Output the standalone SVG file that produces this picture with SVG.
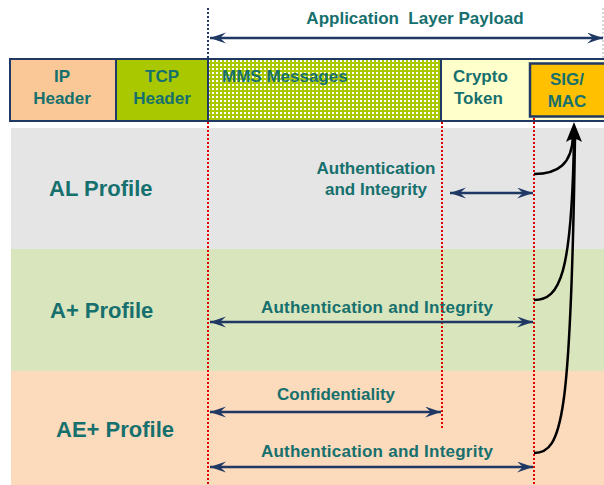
<svg xmlns="http://www.w3.org/2000/svg" width="604" height="485" viewBox="0 0 604 485">
  <style>
    .t { font-family: "Liberation Sans", Arial, sans-serif; font-weight: bold; fill: #16706d; font-size: 17px; }
    .big { font-size: 22px; }
    .pre { white-space: pre; }
    .box { stroke: #1f3864; stroke-width: 2; }
    .red { stroke: #e00000; stroke-width: 2; stroke-dasharray: 2 2; fill: none; }
    .nav { stroke: #1f3864; stroke-width: 2.5; fill: none; }
    .blk { stroke: #000; stroke-width: 2.5; fill: none; }
  </style>
  <defs>
    <pattern id="dots" width="4" height="4" patternUnits="userSpaceOnUse">
      <rect width="4" height="4" fill="#a9c800"/>
      <rect x="0" y="0" width="2" height="2" fill="#ffffff"/>
    </pattern>
    <marker id="ah" markerUnits="userSpaceOnUse" markerWidth="18" markerHeight="12" refX="16" refY="5.5" orient="auto-start-reverse">
      <path d="M0,0 L16,5.5 L0,11 L6,5.5 Z" fill="#1f3864"/>
    </marker>
  </defs>

  <rect width="604" height="485" fill="#ffffff"/>

  <!-- profile bands -->
  <g id="al-profile">
    <rect x="11" y="128" width="593" height="121" fill="#e5e5e5"/>
    <text class="t big" x="49" y="196">AL Profile</text>
  </g>
  <g id="a-plus-profile">
    <rect x="11" y="249" width="593" height="122" fill="#d9e5bd"/>
    <text class="t big" x="50" y="318">A+ Profile</text>
  </g>
  <g id="ae-plus-profile">
    <rect x="11" y="371" width="593" height="114" fill="#fcdabc"/>
    <text class="t big" x="56" y="437">AE+ Profile</text>
  </g>

  <!-- packet layout -->
  <g id="ip-header">
    <rect class="box" x="10" y="59" width="106" height="62" fill="#fac896"/>
    <text class="t" x="62" y="82" text-anchor="middle">IP</text>
    <text class="t" x="62" y="104" text-anchor="middle">Header</text>
  </g>
  <g id="tcp-header">
    <rect class="box" x="116" y="59" width="92" height="62" fill="#a9c800"/>
    <text class="t" x="162" y="82" text-anchor="middle">TCP</text>
    <text class="t" x="162" y="104" text-anchor="middle">Header</text>
  </g>
  <g id="mms-messages">
    <rect class="box" x="208" y="59" width="233" height="62" fill="url(#dots)"/>
    <text class="t" x="222" y="82">MMS Messages</text>
  </g>
  <g id="crypto-token">
    <rect class="box" x="441" y="59" width="165" height="62" fill="#ffffcc"/>
    <text class="t" x="453" y="82">Crypto</text>
    <text class="t" x="454" y="104">Token</text>
  </g>
  <g id="sig-mac">
    <rect x="530" y="63.5" width="76" height="53" fill="#ffc000" stroke="#1f3864" stroke-width="2.5"/>
    <text class="t" x="567" y="85" text-anchor="middle">SIG/</text>
    <text class="t" x="567" y="107" text-anchor="middle">MAC</text>
  </g>

  <!-- labels -->
  <g id="labels">
    <text class="t pre" x="415" y="24" text-anchor="middle">Application  Layer Payload</text>
    <text class="t" x="376" y="174" text-anchor="middle">Authentication</text>
    <text class="t" x="376" y="195" text-anchor="middle">and Integrity</text>
    <text class="t" x="377" y="313" text-anchor="middle" textLength="232">Authentication and Integrity</text>
    <text class="t" x="336" y="400" text-anchor="middle">Confidentiality</text>
    <text class="t" x="377" y="457" text-anchor="middle" textLength="232">Authentication and Integrity</text>
  </g>

  <g id="connectors">
    <!-- boundary guides -->
    <line x1="208" y1="8" x2="208" y2="58" stroke="#1f3864" stroke-width="2" stroke-dasharray="2 2"/>
    <line x1="603" y1="8" x2="603" y2="58" stroke="#b0b0b0" stroke-width="1" stroke-dasharray="2 2"/>
    <line class="red" x1="208" y1="122" x2="208" y2="485"/>
    <line class="red" x1="442" y1="122" x2="442" y2="428"/>
    <line class="red" x1="534" y1="118" x2="534" y2="485"/>

    <!-- coverage arrows -->
    <line class="nav" x1="210" y1="38" x2="603" y2="38" marker-start="url(#ah)" marker-end="url(#ah)"/>
    <line class="nav" x1="450" y1="193" x2="533" y2="193" marker-start="url(#ah)" marker-end="url(#ah)"/>
    <line class="nav" x1="210" y1="322" x2="533" y2="322" marker-start="url(#ah)" marker-end="url(#ah)"/>
    <line class="nav" x1="210" y1="412" x2="441" y2="412" marker-start="url(#ah)" marker-end="url(#ah)"/>
    <line class="nav" x1="210" y1="467" x2="533" y2="467" marker-start="url(#ah)" marker-end="url(#ah)"/>

    <!-- signature paths into SIG/MAC -->
    <path class="blk" d="M534,174 C558,174 572,164 573,136"/>
    <path class="blk" d="M534,300 C560,300 572,275 574,136"/>
    <path class="blk" d="M534,453 C562,453 571,420 575,136"/>
    <path d="M574,122 L566,142 Q574,136 582,142 Z" fill="#000"/>
  </g>
</svg>
